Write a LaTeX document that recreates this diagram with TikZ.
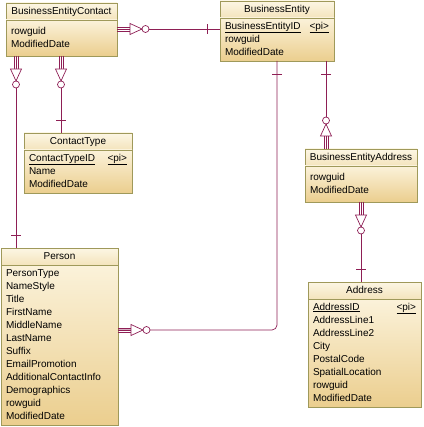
\documentclass[tikz,border=0pt]{standalone}
\usepackage{fontspec}
\setmainfont{Liberation Sans}
\usetikzlibrary{positioning,calc}

\definecolor{tabline}{HTML}{9F995A}
\definecolor{relline}{HTML}{8E1F55}
\definecolor{headtop}{HTML}{FCF6E4}
\definecolor{headbot}{HTML}{F4E4BC}
\definecolor{bodytop}{HTML}{FBF2DA}
\definecolor{bodybot}{HTML}{EBCE8E}

\newcommand{\tabstrut}{\rule[-3.9pt]{0pt}{13pt}}
\newcommand{\pkmark}{\hspace{0pt plus 1filll}\underline{<pi>}}

% many end: three lines, triangle, circle
\newcommand{\relmany}[2]{%
  \begin{scope}[shift={(#1)},rotate=#2]
    \draw[rel] (0,-2)--(13,-2) (0,0)--(13,0) (0,2)--(13,2);
    \draw[rel,fill=white] (13,-5.5)--(25,0)--(13,5.5)--cycle;
    \draw[rel,fill=white] (28.5,0) circle (3.5pt);
  \end{scope}}
% one end: a bar
\newcommand{\relone}[2]{%
  \begin{scope}[shift={(#1)},rotate=#2]
    \draw[rel] (13,-5)--(13,5);
  \end{scope}}

\tikzset{
  tabhead/.style={draw=tabline,line width=0.8pt,top color=headtop,bottom color=headbot,
    anchor=north west,inner sep=0pt,outer sep=0pt,minimum height=17pt,
    font=\fontsize{10}{13}\selectfont,execute at begin node=\tabstrut},
  tabbody/.style={draw=tabline,line width=0.8pt,top color=bodytop,bottom color=bodybot,
    align=left,inner xsep=5pt,inner ysep=2pt,outer sep=0pt,
    font=\fontsize{10}{13}\selectfont,
    execute at begin node=\tabstrut,execute at end node=\tabstrut},
  rel/.style={draw=relline,line width=0.7pt},
}

\begin{document}
\begin{tikzpicture}[x=1pt,y=-1pt]
  \useasboundingbox (0,0) rectangle (423,427);

  % tables
  \node[tabhead,minimum width=111pt] (bec) at (6,3) {BusinessEntityContact};
  \node[tabbody,text width=101pt,minimum height=36pt,below=0pt of bec] (becA)
    {rowguid\\ModifiedDate};

  \node[tabhead,minimum width=114pt] (be) at (220,1) {BusinessEntity};
  \node[tabbody,text width=104pt,minimum height=41pt,below=0pt of be] (beA)
    {\underline{BusinessEntityID}\pkmark\\rowguid\\ModifiedDate};

  \node[tabhead,minimum width=108pt] (ct) at (24,133) {ContactType};
  \node[tabbody,text width=98pt,minimum height=43pt,below=0pt of ct] (ctA)
    {\underline{ContactTypeID}\pkmark\\Name\\ModifiedDate};

  \node[tabhead,minimum width=112pt] (bea) at (305,149) {BusinessEntityAddress};
  \node[tabbody,text width=102pt,minimum height=36pt,below=0pt of bea] (beaA)
    {rowguid\\ModifiedDate};

  \node[tabhead,minimum width=117pt] (person) at (1,248) {Person};
  \node[tabbody,text width=107pt,minimum height=160pt,below=0pt of person] (personA)
    {PersonType\\NameStyle\\Title\\FirstName\\MiddleName\\LastName\\Suffix\\
     EmailPromotion\\AdditionalContactInfo\\Demographics\\rowguid\\ModifiedDate};

  \node[tabhead,minimum width=113pt] (addr) at (308,282) {Address};
  \node[tabbody,text width=103pt,minimum height=108pt,below=0pt of addr] (addrA)
    {\underline{AddressID}\pkmark\\AddressLine1\\AddressLine2\\City\\PostalCode\\
     SpatialLocation\\rowguid\\ModifiedDate};

  % connector ends
  \coordinate (becBe) at ($(becA.north east)+(0,9)$);
  \coordinate (beBec) at (becBe -| beA.west);
  \coordinate (becPer) at ($(becA.south west)+(10,0)$);
  \coordinate (perBec) at (becPer |- person.north);
  \coordinate (becCt) at ($(becA.south west)+(55,0)$);
  \coordinate (ctBec) at (becCt |- ct.north);
  \coordinate (bePer) at ($(beA.south west)+(57,0)$);
  \coordinate (perBe) at ($(personA.north east)+(0,65)$);
  \coordinate (beBea) at ($(beA.south west)+(106,0)$);
  \coordinate (beaBe) at (beBea |- bea.north);
  \coordinate (beaAddr) at ($(beaA.south west)+(56,0)$);
  \coordinate (addrBea) at (beaAddr |- addr.north);

  % connectors
  \draw[rel] (becBe) -- (beBec);
  \draw[rel] (becPer) -- (perBec);
  \draw[rel] (becCt) -- (ctBec);
  \draw[rel,rounded corners=5pt] (bePer) |- (perBe);
  \draw[rel] (beBea) -- (beaBe);
  \draw[rel] (beaAddr) -- (addrBea);

  \relmany{becBe}{0}     \relone{beBec}{180}
  \relmany{becPer}{-90}  \relone{perBec}{90}
  \relmany{becCt}{-90}   \relone{ctBec}{90}
  \relone{bePer}{-90}    \relmany{perBe}{0}
  \relone{beBea}{-90}    \relmany{beaBe}{90}
  \relmany{beaAddr}{-90} \relone{addrBea}{90}
\end{tikzpicture}
\end{document}
